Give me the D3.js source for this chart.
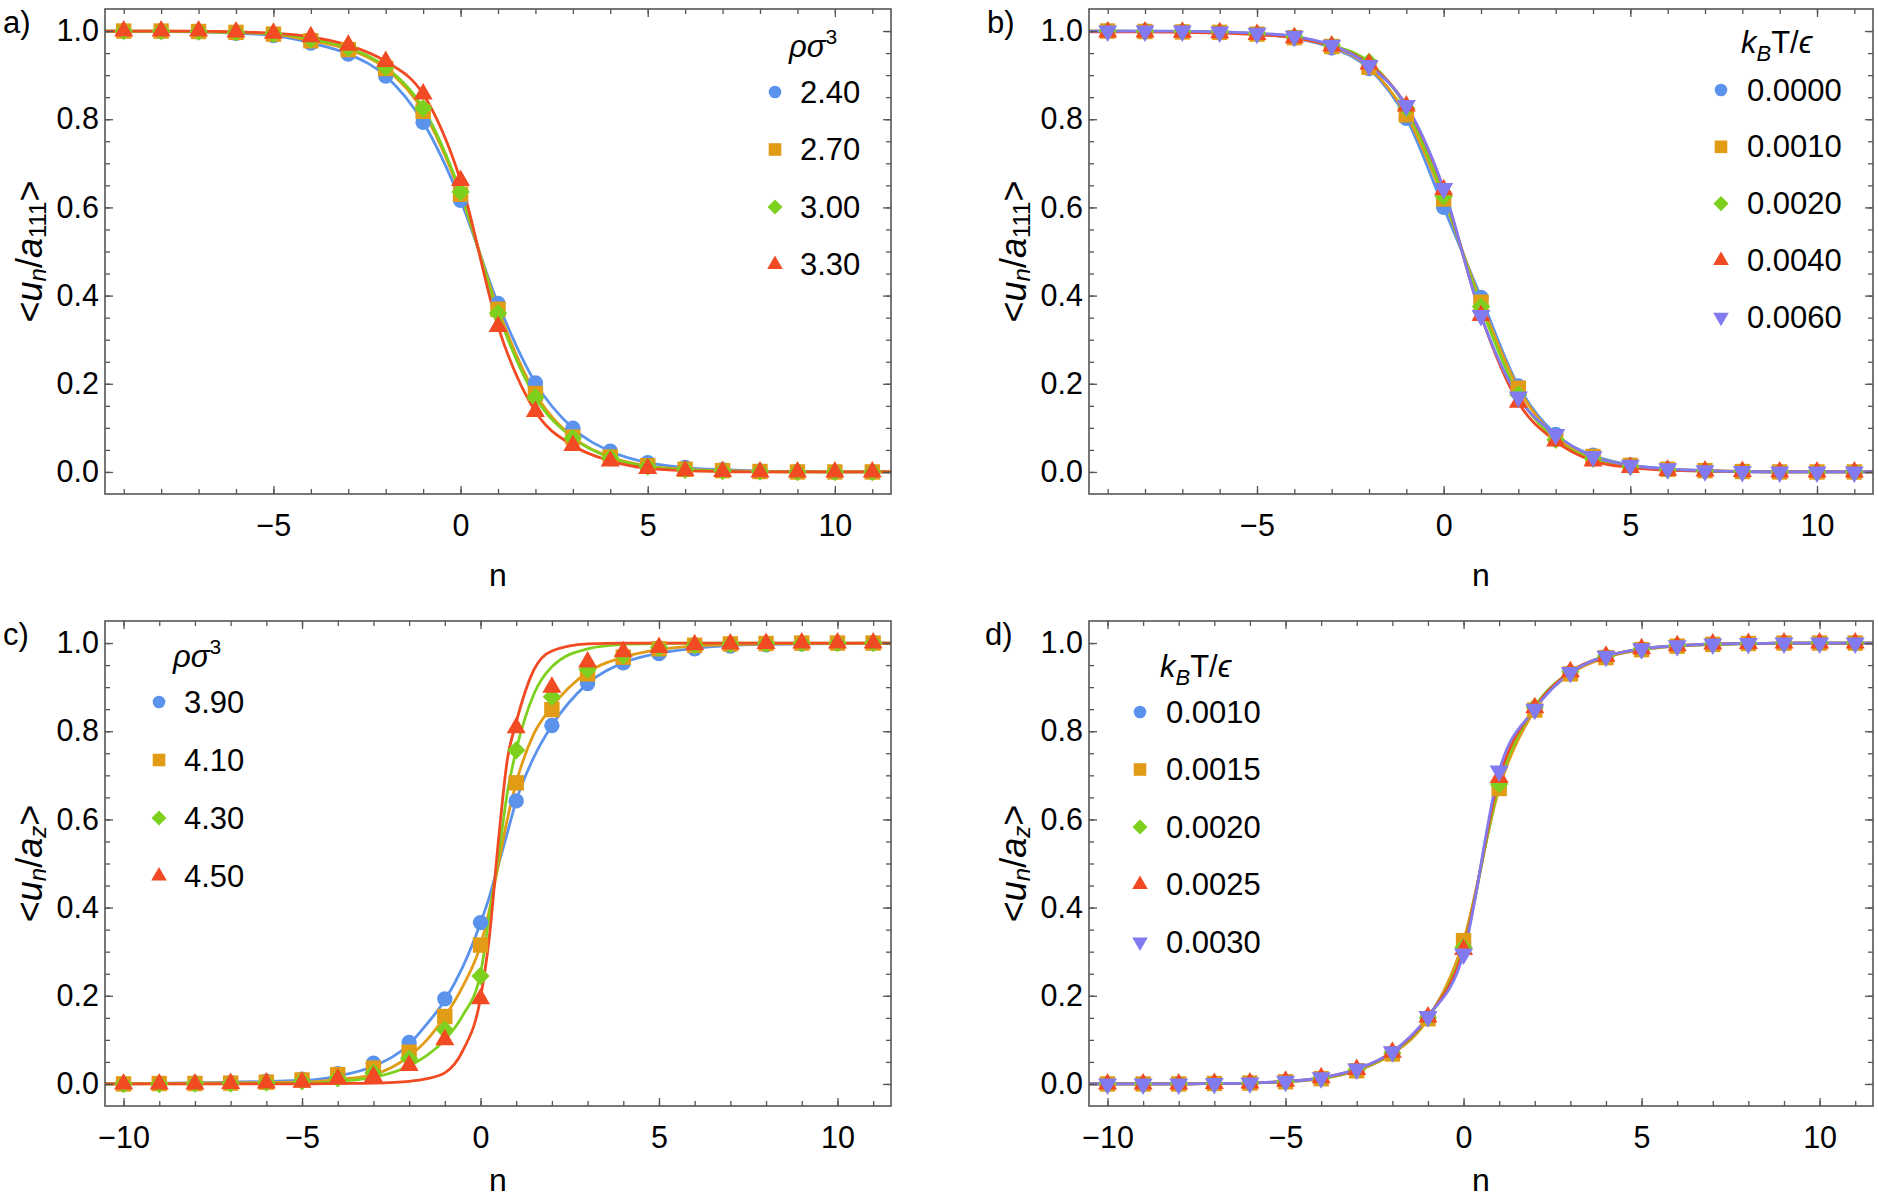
<!DOCTYPE html>
<html>
<head>
<meta charset="utf-8">
<script src="https://cdn.jsdelivr.net/npm/d3@7"></script>
<style>
body { margin: 0; background: #fff; }
text { font-family: "Liberation Sans", Arial, sans-serif; fill: #000; }
</style>
</head>
<body>
<svg id="fig" width="1878" height="1200"></svg>
<script>
// n values (integer layer index)
const nAB = [-9,-8,-7,-6,-5,-4,-3,-2,-1,0,1,2,3,4,5,6,7,8,9,10,11];
const nCD = [-10,-9,-8,-7,-6,-5,-4,-3,-2,-1,0,1,2,3,4,5,6,7,8,9,10,11];

// panel a) <u_n/a111>, rho sigma^3
const labelsA = ["2.40", "2.70", "3.00", "3.30"];
const a240 = [1.000,0.999,0.998,0.995,0.990,0.973,0.948,0.898,0.793,0.616,0.382,0.202,0.099,0.047,0.021,0.010,0.005,0.002,0.001,0.000,0.000];
const a270 = [1.000,1.000,0.999,0.997,0.993,0.978,0.958,0.915,0.818,0.630,0.369,0.178,0.079,0.034,0.014,0.006,0.003,0.001,0.000,0.000,0.000];
const a300 = [1.000,1.000,0.999,0.997,0.994,0.982,0.962,0.918,0.825,0.635,0.360,0.169,0.077,0.032,0.012,0.005,0.002,0.001,0.000,0.000,0.000];
const a330 = [1.000,1.000,1.000,0.998,0.995,0.987,0.968,0.931,0.857,0.661,0.330,0.137,0.060,0.025,0.008,0.003,0.001,0.000,0.000,0.000,0.000];

// panel b) <u_n/a111>, kBT/eps
const labelsB = ["0.0000", "0.0010", "0.0020", "0.0040", "0.0060"];
const b0000 = [1.000,1.000,0.999,0.997,0.993,0.984,0.962,0.915,0.802,0.600,0.396,0.195,0.085,0.038,0.016,0.007,0.003,0.001,0.000,0.000,0.000];
const b0010 = [1.000,0.999,0.998,0.997,0.993,0.985,0.965,0.918,0.810,0.619,0.385,0.190,0.080,0.035,0.015,0.006,0.003,0.001,0.000,0.000,0.000];
const b0020 = [1.000,0.999,0.999,0.998,0.994,0.987,0.968,0.930,0.825,0.625,0.375,0.175,0.073,0.030,0.012,0.005,0.002,0.001,0.000,0.000,0.000];
const b0040 = [0.998,0.998,0.997,0.996,0.992,0.985,0.966,0.925,0.830,0.640,0.355,0.158,0.070,0.025,0.010,0.004,0.002,0.001,0.000,0.000,0.000];
const b0060 = [1.000,1.000,1.000,0.998,0.995,0.988,0.968,0.922,0.831,0.643,0.355,0.170,0.085,0.035,0.015,0.007,0.003,0.001,0.000,0.000,0.000];

// panel c) <u_n/a_z>, rho sigma^3 (points + fitted curves)
const labelsC = ["3.90", "4.10", "4.30", "4.50"];
const c390 = [0.000,0.001,0.002,0.003,0.006,0.011,0.023,0.047,0.094,0.193,0.366,0.642,0.813,0.908,0.955,0.976,0.987,0.993,0.996,0.998,0.999,1.000];
const c410 = [0.000,0.001,0.001,0.002,0.004,0.009,0.021,0.036,0.072,0.153,0.315,0.683,0.849,0.930,0.968,0.987,0.995,0.998,0.999,1.000,1.000,1.000];
const c430 = [0.000,0.000,0.001,0.001,0.003,0.006,0.013,0.025,0.057,0.123,0.245,0.757,0.878,0.940,0.972,0.990,0.995,0.998,0.999,1.000,1.000,1.000];
const c450 = [0.000,0.000,0.000,0.001,0.002,0.004,0.011,0.017,0.042,0.100,0.193,0.808,0.900,0.957,0.980,0.990,0.996,0.998,0.999,1.000,1.000,1.000];
const cFitN = [-10.52,-5,-4,-3,-2,-1.5,-1,-0.5,0,0.25,0.5,0.75,1,1.5,2,3,4,5,6,8,11.5];
const c390fit = [0.000,0.008,0.018,0.040,0.090,0.136,0.190,0.265,0.365,0.425,0.497,0.569,0.642,0.742,0.813,0.908,0.955,0.977,0.988,0.997,1.000];
const c410fit = [0.000,0.004,0.010,0.021,0.063,0.100,0.153,0.221,0.315,0.395,0.497,0.600,0.683,0.795,0.855,0.934,0.968,0.985,0.993,0.998,1.000];
const c430fit = [0.000,0.001,0.006,0.015,0.041,0.065,0.100,0.155,0.250,0.385,0.515,0.660,0.757,0.885,0.946,0.987,0.997,0.999,1.000,1.000,1.000];
const c450fit = [0.000,0.000,0.001,0.002,0.006,0.012,0.025,0.075,0.195,0.335,0.550,0.735,0.820,0.940,0.982,0.998,1.000,1.000,1.000,1.000,1.000];

// panel d) <u_n/a_z>, kBT/eps
const labelsD = ["0.0010", "0.0015", "0.0020", "0.0025", "0.0030"];
const d0010 = [0.000,0.000,0.000,0.001,0.002,0.005,0.012,0.030,0.070,0.150,0.320,0.675,0.850,0.932,0.968,0.985,0.993,0.997,0.999,1.000,1.000,1.000];
const d0015 = [0.000,0.000,0.000,0.001,0.002,0.005,0.012,0.030,0.068,0.148,0.325,0.670,0.848,0.930,0.967,0.985,0.993,0.997,0.999,1.000,1.000,1.000];
const d0020 = [0.000,0.000,0.000,0.001,0.002,0.005,0.013,0.032,0.070,0.150,0.310,0.680,0.855,0.935,0.970,0.986,0.994,0.997,0.999,1.000,1.000,1.000];
const d0025 = [0.000,0.000,0.000,0.001,0.002,0.006,0.014,0.033,0.072,0.152,0.305,0.695,0.853,0.935,0.970,0.987,0.994,0.998,0.999,1.000,1.000,1.000];
const d0030 = [0.000,0.000,0.000,0.001,0.002,0.006,0.014,0.034,0.073,0.153,0.295,0.710,0.850,0.933,0.970,0.987,0.994,0.998,0.999,1.000,1.000,1.000];

const colors = ["#5B93EC", "#E29B15", "#7DD11E", "#F24A23", "#827BF0"];
const shapes = ["circle", "square", "diamond", "triangle", "triangleDown"];
const frameColor = "#555";

const svg = d3.select("#fig");

function symbolPath(shape, k) {
    // k = scale factor, 1 for plot markers
    if (shape === "circle") return d3.symbol(d3.symbolCircle, Math.PI * 49 * k * k)();
    if (shape === "square") return d3.symbol(d3.symbolSquare, 196 * k * k)();
    if (shape === "diamond") return d3.symbol(d3.symbolSquare, 140 * k * k)();
    return d3.symbol(d3.symbolTriangle, 130 * k * k)();
}
function symbolRot(shape) {
    if (shape === "diamond") return 45;
    if (shape === "triangleDown") return 180;
    return 0;
}

function drawPanel(cfg) {
    const g = svg.append("g");
    const x = d3.scaleLinear().domain(cfg.xDomain).range([cfg.left, cfg.right]);
    const y = d3.scaleLinear().domain([-0.05, 1.05]).range([cfg.bottom, cfg.top]);

    const clipId = "clip" + cfg.letter;
    svg.append("clipPath").attr("id", clipId).append("rect")
        .attr("x", cfg.left).attr("y", cfg.top)
        .attr("width", cfg.right - cfg.left).attr("height", cfg.bottom - cfg.top);

    const line = d3.line().x(d => x(d[0])).y(d => y(d[1])).curve(d3.curveMonotoneX);
    const plot = g.append("g").attr("clip-path", `url(#${clipId})`);

    // curves
    cfg.series.forEach((s, i) => {
        let pts;
        if (s.fit) {
            pts = cfg.fitN.map((n, j) => [n, s.fit[j]]);
        } else {
            pts = cfg.n.map((n, j) => [n, s.values[j]]);
            pts.unshift([cfg.xDomain[0], s.values[0]]);
            pts.push([cfg.xDomain[1], s.values[s.values.length - 1]]);
        }
        plot.append("path").attr("d", line(pts))
            .attr("fill", "none").attr("stroke", colors[i]).attr("stroke-width", 2.8);
    });

    // markers
    cfg.series.forEach((s, i) => {
        plot.append("g").selectAll("path")
            .data(cfg.n.map((n, j) => [n, s.values[j]]))
            .join("path")
            .attr("d", symbolPath(shapes[i], 1.1))
            .attr("transform", d => `translate(${x(d[0])},${y(d[1])}) rotate(${symbolRot(shapes[i])})`)
            .attr("fill", colors[i]);
    });

    // axes: ticks point inward, major ones longer
    const xMin = d3.range(Math.ceil(cfg.xDomain[0]), Math.floor(cfg.xDomain[1]) + 1);
    const xMaj = xMin.filter(v => v % 5 === 0);
    const yMin = d3.range(0, 21).map(i => i * 0.05);
    const yMaj = [0, 0.2, 0.4, 0.6, 0.8, 1.0];

    const axes = [
        [d3.axisBottom(x).tickValues(xMaj).tickSizeInner(-8).tickSizeOuter(0).tickPadding(20).tickFormat(d3.format("d")), `translate(0,${cfg.bottom})`],
        [d3.axisBottom(x).tickValues(xMin).tickSizeInner(-5).tickSizeOuter(0).tickFormat(""), `translate(0,${cfg.bottom})`],
        [d3.axisTop(x).tickValues(xMaj).tickSizeInner(-8).tickSizeOuter(0).tickFormat(""), `translate(0,${cfg.top})`],
        [d3.axisTop(x).tickValues(xMin).tickSizeInner(-5).tickSizeOuter(0).tickFormat(""), `translate(0,${cfg.top})`],
        [d3.axisLeft(y).tickValues(yMaj).tickSizeInner(-8).tickSizeOuter(0).tickPadding(6).tickFormat(d3.format(".1f")), `translate(${cfg.left},0)`],
        [d3.axisLeft(y).tickValues(yMin).tickSizeInner(-5).tickSizeOuter(0).tickFormat(""), `translate(${cfg.left},0)`],
        [d3.axisRight(y).tickValues(yMaj).tickSizeInner(-8).tickSizeOuter(0).tickFormat(""), `translate(${cfg.right},0)`],
        [d3.axisRight(y).tickValues(yMin).tickSizeInner(-5).tickSizeOuter(0).tickFormat(""), `translate(${cfg.right},0)`]
    ];
    axes.forEach(([ax, tr]) => {
        const a = g.append("g").attr("transform", tr).call(ax);
        a.select(".domain").remove();
        a.selectAll("line").attr("stroke", frameColor).attr("stroke-width", 1.3);
        a.selectAll("text").attr("font-size", 30.5).attr("font-family", "Liberation Sans, Arial, sans-serif").attr("fill", "#000");
    });

    g.append("rect").attr("x", cfg.left).attr("y", cfg.top)
        .attr("width", cfg.right - cfg.left).attr("height", cfg.bottom - cfg.top)
        .attr("fill", "none").attr("stroke", frameColor).attr("stroke-width", 1.6);

    // axis labels
    g.append("text").attr("x", (cfg.left + cfg.right) / 2).attr("y", cfg.bottom + cfg.nOffset)
        .attr("text-anchor", "middle").attr("font-size", 32).text("n");

    const cy = (cfg.top + cfg.bottom) / 2;
    const yl = g.append("text").attr("transform", `translate(${cfg.left - 76},${cy}) rotate(-90)`)
        .attr("text-anchor", "middle").attr("dominant-baseline", "central").attr("font-size", 36);
    yl.append("tspan").text("<");
    yl.append("tspan").attr("font-style", "italic").text("u");
    yl.append("tspan").attr("font-style", "italic").attr("font-size", 24).attr("dy", 8).text("n");
    yl.append("tspan").attr("dy", -8).text("/");
    yl.append("tspan").attr("font-style", "italic").text("a");
    yl.append("tspan").attr("font-size", 24).attr("dy", 8)
        .attr("font-style", cfg.sub === "z" ? "italic" : "normal").text(cfg.sub);
    yl.append("tspan").attr("dy", -8).text(">");

    // panel letter
    g.append("text").attr("x", cfg.letterX).attr("y", cfg.top + 24)
        .attr("font-family", "Liberation Serif, Times New Roman, serif").attr("font-size", 31)
        .text(cfg.letter + ")");

    // legend
    const lg = g.append("g");
    const t = lg.append("text").attr("x", cfg.legend.titleX).attr("y", cfg.legend.titleY).attr("font-size", 31);
    if (cfg.legend.kind === "rho") {
        t.append("tspan").attr("font-style", "italic").text("ρσ");
        t.append("tspan").attr("font-size", 21).attr("dy", -13).text("3");
    } else {
        t.append("tspan").attr("font-style", "italic").text("k");
        t.append("tspan").attr("font-style", "italic").attr("font-size", 22).attr("dy", 8).text("B");
        t.append("tspan").attr("dy", -8).text("T/");
        t.append("tspan").attr("font-style", "italic").text("ϵ");
    }
    cfg.labels.forEach((lab, i) => {
        const ey = cfg.legend.y0 + i * cfg.legend.dy;
        lg.append("path").attr("d", symbolPath(shapes[i], 0.9))
            .attr("transform", `translate(${cfg.legend.markerX},${ey}) rotate(${symbolRot(shapes[i])})`)
            .attr("fill", colors[i]);
        lg.append("text").attr("x", cfg.legend.textX).attr("y", ey)
            .attr("dominant-baseline", "central").attr("font-size", 31).text(lab);
    });
}

drawPanel({
    letter: "a", letterX: 3, left: 105, right: 891, top: 9, bottom: 494, nOffset: 92,
    xDomain: [-9.5, 11.5], n: nAB, sub: "111", labels: labelsA,
    series: [{values: a240}, {values: a270}, {values: a300}, {values: a330}],
    legend: {kind: "rho", titleX: 789, titleY: 57, markerX: 775, textX: 800, y0: 92, dy: 57.5}
});
drawPanel({
    letter: "b", letterX: 987, left: 1089, right: 1873, top: 9, bottom: 494, nOffset: 92,
    xDomain: [-9.5, 11.5], n: nAB, sub: "111", labels: labelsB,
    series: [{values: b0000}, {values: b0010}, {values: b0020}, {values: b0040}, {values: b0060}],
    legend: {kind: "kT", titleX: 1741, titleY: 53, markerX: 1721, textX: 1747, y0: 90, dy: 56.8}
});
drawPanel({
    letter: "c", letterX: 3, left: 105, right: 891, top: 621, bottom: 1106, nOffset: 85,
    xDomain: [-10.52, 11.5], n: nCD, fitN: cFitN, sub: "z", labels: labelsC,
    series: [{values: c390, fit: c390fit}, {values: c410, fit: c410fit}, {values: c430, fit: c430fit}, {values: c450, fit: c450fit}],
    legend: {kind: "rho", titleX: 173, titleY: 667, markerX: 159, textX: 184, y0: 702, dy: 58}
});
drawPanel({
    letter: "d", letterX: 985, left: 1089, right: 1873, top: 621, bottom: 1106, nOffset: 85,
    xDomain: [-10.52, 11.5], n: nCD, sub: "z", labels: labelsD,
    series: [{values: d0010}, {values: d0015}, {values: d0020}, {values: d0025}, {values: d0030}],
    legend: {kind: "kT", titleX: 1160, titleY: 677, markerX: 1140, textX: 1166, y0: 712, dy: 57.5}
});
</script>
</body>
</html>
